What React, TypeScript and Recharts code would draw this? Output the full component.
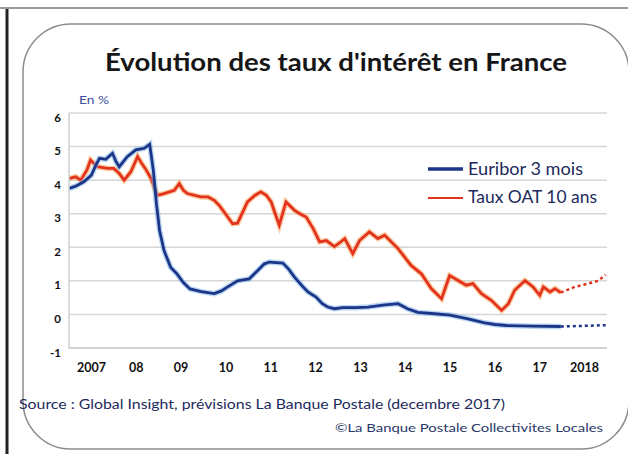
import { LineChart, Line, XAxis, YAxis, CartesianGrid } from "recharts"

const yearLabels = ["2007", "08", "09", "10", "11", "12", "13", "14", "15", "16", "17", "2018"]
const yearTicks = yearLabels.map((_, i) => 2007.5 + i)
const rateTicks = [-1, 0, 1, 2, 3, 4, 5, 6]

const euriborDates = [
  2007.0, 2007.15, 2007.33, 2007.5, 2007.6, 2007.68, 2007.82, 2007.97, 2008.05, 2008.12,
  2008.3, 2008.49, 2008.68, 2008.8, 2008.88, 2008.95, 2009.02, 2009.12, 2009.27, 2009.4,
  2009.55, 2009.7, 2009.95, 2010.24, 2010.4, 2010.54, 2010.76, 2011.02, 2011.21, 2011.35,
  2011.47, 2011.77, 2011.9, 2012.03, 2012.2, 2012.33, 2012.51, 2012.65, 2012.77, 2012.92,
  2013.1, 2013.4, 2013.67, 2014.0, 2014.34, 2014.55, 2014.78, 2015.16, 2015.5, 2015.9,
  2016.27, 2016.5, 2016.76, 2017.35, 2017.97,
]
const euriborRates = [
  3.75, 3.82, 3.95, 4.15, 4.45, 4.65, 4.62, 4.8, 4.55, 4.4,
  4.7, 4.9, 4.95, 5.07, 4.3, 3.3, 2.5, 1.9, 1.4, 1.22,
  0.95, 0.76, 0.68, 0.62, 0.7, 0.82, 1.0, 1.06, 1.31, 1.5,
  1.56, 1.53, 1.35, 1.11, 0.85, 0.67, 0.52, 0.32, 0.22, 0.17,
  0.2, 0.2, 0.22, 0.28, 0.32, 0.17, 0.06, 0.02, -0.02, -0.13,
  -0.25, -0.3, -0.33, -0.35, -0.36,
]
const euriborForecastDates = [2017.97, 2018.5, 2018.97]
const euriborForecastRates = [-0.36, -0.34, -0.32]

const oatDates = [
  2007.0, 2007.15, 2007.26, 2007.4, 2007.48, 2007.63, 2007.86, 2008.0, 2008.12, 2008.23,
  2008.38, 2008.53, 2008.62, 2008.7, 2008.83, 2008.97, 2009.12, 2009.35, 2009.46, 2009.55,
  2009.64, 2009.94, 2010.1, 2010.24, 2010.35, 2010.46, 2010.65, 2010.76, 2010.98, 2011.15,
  2011.28, 2011.4, 2011.51, 2011.6, 2011.69, 2011.84, 2012.03, 2012.15, 2012.29, 2012.45,
  2012.59, 2012.74, 2012.92, 2013.05, 2013.15, 2013.33, 2013.48, 2013.7, 2013.89, 2014.04,
  2014.34, 2014.63, 2014.86, 2015.08, 2015.31, 2015.49, 2015.68, 2015.86, 2016.01, 2016.2,
  2016.42, 2016.65, 2016.8, 2016.94, 2017.17, 2017.35, 2017.5, 2017.58, 2017.73, 2017.84,
  2017.97,
]
const oatRates = [
  4.05, 4.1, 4.0, 4.3, 4.6, 4.4, 4.35, 4.35, 4.2, 4.0,
  4.25, 4.7, 4.5, 4.35, 4.05, 3.55, 3.6, 3.7, 3.9, 3.7,
  3.6, 3.5, 3.5, 3.4, 3.25, 3.05, 2.7, 2.72, 3.35, 3.55,
  3.65, 3.55, 3.35, 3.0, 2.66, 3.35, 3.1, 3.0, 2.9, 2.55,
  2.16, 2.2, 2.02, 2.15, 2.26, 1.81, 2.2, 2.46, 2.26, 2.36,
  1.96, 1.46, 1.21, 0.77, 0.47, 1.16, 1.01, 0.87, 0.92, 0.62,
  0.42, 0.12, 0.32, 0.72, 1.01, 0.82, 0.57, 0.82, 0.67, 0.77,
  0.65,
]
const oatForecastDates = [2017.97, 2018.28, 2018.58, 2018.8, 2018.97]
const oatForecastRates = [0.65, 0.82, 0.92, 1.0, 1.18]

const BLUE = "#1c3588"
const RED = "#e3321e"
const TEXT = "#1c2a5c"
const FONT = "Lato, 'Open Sans', sans-serif"

function toSeries(dates: number[], rates: number[]) {
  return dates.map((t, i) => ({ t, v: rates[i] }))
}

const euribor = toSeries(euriborDates, euriborRates)
const euriborForecast = toSeries(euriborForecastDates, euriborForecastRates)
const oat = toSeries(oatDates, oatRates)
const oatForecast = toSeries(oatForecastDates, oatForecastRates)

// labels sit a little under their gridline in the original
function RateTick({ x, y, payload }: any) {
  return (
    <text x={x} y={y + 4} textAnchor="end" dominantBaseline="central" fill="#111" fontSize={11.5} fontWeight={700} fontFamily={FONT}>
      {payload.value}
    </text>
  )
}

function Frame() {
  return (
    <svg
      width={628}
      height={454}
      style={{ position: "absolute", left: 0, top: 0, pointerEvents: "none" }}
    >
      <line x1={0} y1={8} x2={628} y2={8} stroke="#9a9a9a" strokeWidth={2} />
      <line x1={7} y1={9} x2={7} y2={454} stroke="#222" strokeWidth={3} />
      <rect x={23} y={24} width={606} height={425} rx={48} fill="none" stroke="#8c8c8c" strokeWidth={1.5} />

      <text x={105} y={71} fontFamily={FONT} fontWeight={700} fontSize={25} fill="#161616" textLength={462} lengthAdjust="spacingAndGlyphs">
        Évolution des taux d'intérêt en France
      </text>
      <text x={79} y={104} fontFamily={FONT} fontSize={11} fill="#3d4f9f" textLength={30} lengthAdjust="spacingAndGlyphs">
        En %
      </text>

      <line x1={428} y1={169} x2={463} y2={169} stroke={BLUE} strokeWidth={3.5} />
      <text x={468} y={175} fontFamily={FONT} fontSize={17} fill={TEXT} textLength={115} lengthAdjust="spacingAndGlyphs">
        Euribor 3 mois
      </text>
      <line x1={428} y1={198} x2={463} y2={198} stroke={RED} strokeWidth={2} />
      <text x={468} y={203} fontFamily={FONT} fontSize={17} fill={TEXT} textLength={129} lengthAdjust="spacingAndGlyphs">
        Taux OAT 10 ans
      </text>

      <text x={19} y={409} fontFamily={FONT} fontSize={13.5} fill={TEXT} textLength={486} lengthAdjust="spacingAndGlyphs">
        Source : Global Insight, prévisions La Banque Postale (decembre 2017)
      </text>
      <text x={603} y={432} textAnchor="end" fontFamily={FONT} fontSize={12} fill="#2a3866" textLength={268} lengthAdjust="spacingAndGlyphs">
        ©La Banque Postale Collectivites Locales
      </text>
    </svg>
  )
}

export default function App() {
  return (
    <div style={{ position: "absolute", left: 0, top: 0, width: 628, height: 454, background: "#fff" }}>
      <LineChart width={628} height={454} margin={{ top: 113, right: 21, bottom: 76, left: 49 }}>
        <CartesianGrid vertical={false} stroke="#d6d6d6" strokeWidth={1.5} />
        <XAxis
          type="number"
          dataKey="t"
          domain={[2007, 2019]}
          ticks={yearTicks}
          tickFormatter={(t: number) => yearLabels[Math.round(t - 2007.5)]}
          allowDataOverflow
          height={30}
          tickSize={0}
          tickMargin={15}
          axisLine={{ stroke: "#cfcfcf", strokeWidth: 1.5 }}
          tick={{ fill: "#111", fontSize: 12.5, fontWeight: 700, fontFamily: FONT }}
        />
        <YAxis
          type="number"
          domain={[-1, 6]}
          ticks={rateTicks}
          width={20}
          tickSize={0}
          tickMargin={8}
          axisLine={{ stroke: "#cfcfcf", strokeWidth: 1.5 }}
          tick={<RateTick />}
        />
        <Line data={oat} dataKey="v" stroke="#f6a55a" strokeOpacity={0.55} strokeWidth={5.5} dot={false} isAnimationActive={false} />
        <Line data={oat} dataKey="v" stroke={RED} strokeWidth={2.8} dot={false} isAnimationActive={false} />
        <Line data={oatForecast} dataKey="v" stroke={RED} strokeWidth={2.5} strokeDasharray="3 3" dot={false} isAnimationActive={false} />
        <Line data={euribor} dataKey="v" stroke="#7fb4e6" strokeOpacity={0.55} strokeWidth={5.5} dot={false} isAnimationActive={false} />
        <Line data={euribor} dataKey="v" stroke={BLUE} strokeWidth={2.8} dot={false} isAnimationActive={false} />
        <Line data={euriborForecast} dataKey="v" stroke={BLUE} strokeWidth={2.5} strokeDasharray="3 3" dot={false} isAnimationActive={false} />
      </LineChart>
      <Frame />
    </div>
  )
}
